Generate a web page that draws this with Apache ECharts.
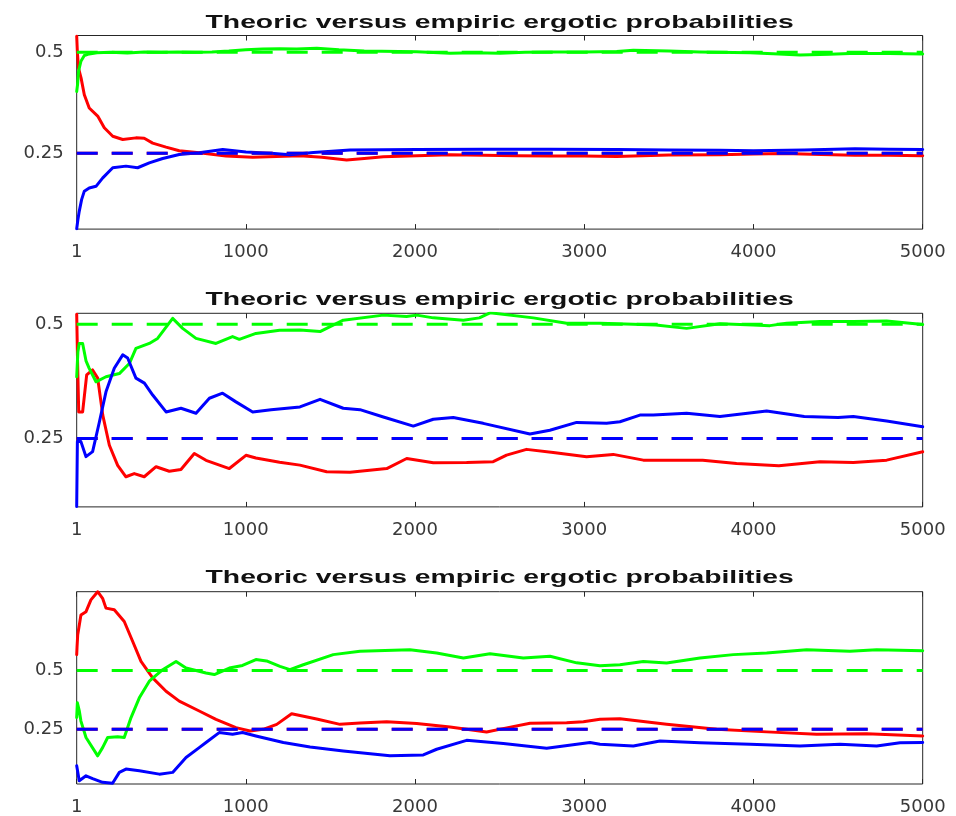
<!DOCTYPE html>
<html>
<head>
<meta charset="utf-8">
<script src="https://cdn.jsdelivr.net/npm/echarts@6/dist/echarts.min.js"></script>
<style>
  html, body { margin: 0; padding: 0; background: #fff; }
  #chart { width: 956px; height: 816px; }
</style>
</head>
<body>
<div id="chart"></div>
<script>
// Step axis ticks and probability ticks
const xTicks = [1, 1000, 2000, 3000, 4000, 5000];
const yTicks = [0.25, 0.5];
const chartTitle = 'Theoric versus empiric ergotic probabilities';

// Theoretical stationary probabilities for each run
const theoricA = { red: 0.25, green: 0.5, blue: 0.25 };
const theoricB = { red: 0.25, green: 0.5, blue: 0.25 };
const theoricC = { red: 0.25, green: 0.5, blue: 0.25 };

// Run A: running empirical frequencies [step, probability]
const redA = [[1,0.540],[5,0.50],[12,0.46],[27,0.436],[46,0.395],[75,0.362],[125,0.342],[164,0.313],[214,0.292],[273,0.284],[351,0.288],[400,0.287],[450,0.275],[529,0.265],[607,0.256],[725,0.251],[883,0.243],[1041,0.240],[1320,0.244],[1450,0.240],[1596,0.233],[1700,0.237],[1813,0.241],[2010,0.244],[2207,0.246],[2404,0.245],[2600,0.244],[2798,0.243],[3000,0.243],[3192,0.242],[3290,0.243],[3500,0.2455],[3800,0.246],[4000,0.248],[4180,0.249],[4400,0.247],[4600,0.245],[4800,0.245],[5000,0.244]];
const greenA = [[1,0.403],[6,0.42],[12,0.453],[26,0.478],[46,0.492],[75,0.496],[120,0.499],[200,0.500],[300,0.498],[400,0.501],[500,0.500],[600,0.501],[700,0.500],[800,0.501],[900,0.503],[1000,0.506],[1100,0.508],[1200,0.509],[1300,0.508],[1420,0.510],[1550,0.506],[1700,0.503],[2010,0.5015],[2207,0.4975],[2350,0.499],[2502,0.4975],[2650,0.500],[2798,0.501],[3000,0.501],[3192,0.502],[3290,0.505],[3500,0.503],[3684,0.501],[3980,0.499],[4150,0.496],[4275,0.493],[4450,0.495],[4570,0.497],[4800,0.497],[5000,0.496]];
const blueA = [[1,0.063],[8,0.085],[16,0.106],[30,0.135],[46,0.156],[75,0.164],[115,0.168],[155,0.189],[214,0.214],[292,0.218],[361,0.214],[430,0.226],[509,0.237],[607,0.247],[725,0.251],[864,0.259],[1001,0.253],[1150,0.250],[1261,0.246],[1400,0.252],[1616,0.258],[2010,0.259],[2404,0.260],[2798,0.260],[3192,0.259],[3500,0.258],[3800,0.2575],[4000,0.256],[4300,0.258],[4600,0.261],[4800,0.260],[5000,0.259]];

// Run B
const redB = [[1,0.522],[6,0.42],[13,0.308],[36,0.308],[60,0.389],[95,0.400],[125,0.382],[155,0.301],[194,0.235],[243,0.191],[292,0.166],[341,0.173],[400,0.166],[470,0.188],[548,0.178],[617,0.182],[696,0.217],[765,0.202],[903,0.184],[1001,0.213],[1060,0.207],[1200,0.198],[1320,0.1915],[1478,0.177],[1616,0.176],[1833,0.184],[1951,0.206],[2108,0.1965],[2305,0.197],[2462,0.199],[2541,0.2135],[2659,0.226],[2817,0.219],[3014,0.2097],[3171,0.215],[3349,0.2024],[3408,0.2024],[3700,0.2024],[3900,0.195],[4150,0.190],[4393,0.199],[4590,0.197],[4787,0.2024],[5000,0.2206]];
const greenB = [[1,0.385],[8,0.440],[16,0.458],[36,0.458],[56,0.420],[75,0.4035],[115,0.374],[174,0.385],[253,0.392],[312,0.414],[351,0.447],[430,0.458],[479,0.469],[568,0.513],[627,0.491],[706,0.469],[824,0.458],[922,0.473],[962,0.467],[1060,0.480],[1200,0.487],[1320,0.4875],[1439,0.484],[1576,0.509],[1813,0.520],[1950,0.517],[2010,0.520],[2108,0.514],[2286,0.509],[2380,0.514],[2443,0.525],[2699,0.514],[2896,0.502],[3093,0.502],[3290,0.500],[3424,0.4985],[3605,0.491],[3802,0.501],[3999,0.4985],[4097,0.497],[4196,0.502],[4393,0.506],[4590,0.506],[4787,0.507],[5000,0.4995]];
const blueB = [[1,0.101],[5,0.243],[26,0.243],[56,0.210],[95,0.221],[135,0.286],[174,0.352],[223,0.4035],[273,0.433],[302,0.426],[351,0.382],[401,0.371],[450,0.345],[529,0.308],[617,0.316],[706,0.305],[785,0.338],[863,0.349],[942,0.330],[1041,0.308],[1150,0.313],[1320,0.319],[1439,0.3355],[1576,0.316],[1675,0.313],[1813,0.297],[1990,0.277],[2108,0.292],[2226,0.296],[2403,0.283],[2679,0.2595],[2797,0.268],[2955,0.285],[3132,0.283],[3211,0.2864],[3329,0.301],[3408,0.301],[3605,0.305],[3802,0.298],[4078,0.310],[4300,0.298],[4500,0.296],[4590,0.298],[4787,0.288],[5000,0.2755]];

// Run C
const redC = [[1,0.568],[3,0.60],[7,0.6525],[26,0.737],[56,0.751],[85,0.801],[125,0.836],[154,0.808],[174,0.766],[223,0.759],[282,0.709],[332,0.624],[381,0.539],[450,0.469],[529,0.412],[607,0.370],[725,0.328],[824,0.292],[942,0.257],[1025,0.243],[1103,0.250],[1183,0.271],[1271,0.3165],[1419,0.294],[1557,0.271],[1675,0.277],[1833,0.282],[2010,0.275],[2207,0.26],[2423,0.2386],[2542,0.256],[2680,0.2755],[2896,0.278],[2995,0.2825],[3093,0.2924],[3211,0.295],[3487,0.271],[3782,0.25],[4078,0.239],[4373,0.229],[4669,0.2315],[5000,0.2216]];
const greenC = [[1,0.300],[5,0.363],[16,0.330],[26,0.285],[56,0.215],[125,0.137],[154,0.172],[184,0.215],[243,0.218],[282,0.215],[322,0.300],[371,0.384],[430,0.455],[509,0.504],[588,0.539],[647,0.511],[765,0.490],[814,0.483],[903,0.511],[981,0.522],[1060,0.547],[1123,0.541],[1202,0.518],[1261,0.504],[1340,0.525],[1517,0.568],[1675,0.582],[1970,0.589],[2128,0.575],[2286,0.554],[2443,0.572],[2640,0.554],[2798,0.561],[2955,0.533],[3093,0.521],[3211,0.525],[3349,0.539],[3487,0.532],[3684,0.554],[3881,0.568],[4078,0.575],[4314,0.589],[4570,0.582],[4728,0.589],[5000,0.585]];
const blueC = [[1,0.0945],[16,0.031],[56,0.052],[95,0.040],[154,0.024],[213,0.020],[253,0.0665],[292,0.0805],[371,0.073],[489,0.059],[568,0.0665],[647,0.130],[725,0.172],[765,0.194],[843,0.236],[922,0.229],[981,0.236],[1060,0.2216],[1222,0.194],[1380,0.175],[1576,0.158],[1852,0.137],[2049,0.141],[2128,0.165],[2305,0.203],[2522,0.189],[2778,0.1695],[3034,0.194],[3093,0.1864],[3290,0.179],[3448,0.2004],[3684,0.193],[3980,0.186],[4275,0.179],[4511,0.186],[4728,0.179],[4866,0.193],[5000,0.1935]];

// Vertical limits of each panel (tight around the data)
const yLimits = [[0.062, 0.5416], [0.100, 0.524], [0.017, 0.836]];

const panels = [
  { red: redA, green: greenA, blue: blueA, theoric: theoricA },
  { red: redB, green: greenB, blue: blueB, theoric: theoricB },
  { red: redC, green: greenC, blue: blueC, theoric: theoricC }
];

const colors = { red: '#ff0000', green: '#00ff00', blue: '#0000ff' };
const axisColor = '#262626';
const labelColor = '#383838';
const labelFont = '"DejaVu Sans", Verdana, sans-serif';
const titleFont = '"Liberation Sans", Arial, Helvetica, sans-serif';

const gridTops = [35.5, 313.3, 591.7];
const titleCenters = [22.5, 299.5, 577.5];
const gridHeight = 193.6;
const plotLeft = 76.7, plotRight = 33.3;

const grids = [], xAxes = [], yAxes = [], graphics = [], series = [];

panels.forEach((p, i) => {
  grids.push({
    left: plotLeft, right: plotRight, top: gridTops[i], height: gridHeight,
    show: true, borderColor: axisColor, borderWidth: 1, backgroundColor: '#ffffff',
    containLabel: false
  });
  // wide bold heading above each panel
  graphics.push({
    type: 'text',
    x: (plotLeft + (956 - plotRight)) / 2,
    y: titleCenters[i],
    scaleX: 1.53,
    style: {
      text: chartTitle, x: 0, y: 0, align: 'center', verticalAlign: 'middle',
      font: 'bold 18.5px ' + titleFont, fill: '#111111'
    }
  });
  const [ymin, ymax] = yLimits[i];
  // bottom x axis with labels
  xAxes.push({
    gridIndex: i, type: 'value', min: 1, max: 5000, position: 'bottom',
    axisLine: { show: false },
    axisTick: { show: true, inside: true, length: 5, customValues: xTicks, lineStyle: { color: axisColor } },
    axisLabel: { show: true, customValues: xTicks, margin: 14, fontSize: 18, fontFamily: labelFont, color: labelColor,
      formatter: v => String(v) },
    splitLine: { show: false }
  });
  // top x axis carries the mirrored ticks
  xAxes.push({
    gridIndex: i, type: 'value', min: 1, max: 5000, position: 'top',
    axisLine: { show: false },
    axisTick: { show: true, inside: true, length: 5, customValues: xTicks, lineStyle: { color: axisColor } },
    axisLabel: { show: false },
    splitLine: { show: false }
  });
  yAxes.push({
    gridIndex: i, type: 'value', min: ymin, max: ymax, position: 'left',
    axisLine: { show: false },
    axisTick: { show: true, inside: true, length: 5, customValues: yTicks, lineStyle: { color: axisColor } },
    axisLabel: { show: true, customValues: yTicks, margin: 13, fontSize: 18, fontFamily: labelFont, color: labelColor,
      formatter: v => String(v) },
    splitLine: { show: false }
  });
  yAxes.push({
    gridIndex: i, type: 'value', min: ymin, max: ymax, position: 'right',
    axisLine: { show: false },
    axisTick: { show: true, inside: true, length: 5, customValues: yTicks, lineStyle: { color: axisColor } },
    axisLabel: { show: false },
    splitLine: { show: false }
  });

  ['red', 'green', 'blue'].forEach((c, k) => {
    series.push({
      type: 'line', xAxisIndex: 2 * i, yAxisIndex: 2 * i,
      data: p[c], symbol: 'none', smooth: false, clip: true, z: 2 + k,
      lineStyle: { color: colors[c], width: 3, join: 'round', cap: 'round' }
    });
  });
  ['red', 'green', 'blue'].forEach((c, k) => {
    const v = p.theoric[c];
    series.push({
      type: 'line', xAxisIndex: 2 * i, yAxisIndex: 2 * i,
      data: [[1, v], [5000, v]], symbol: 'none', clip: true, z: 6 + k,
      lineStyle: { color: colors[c], width: 3, type: [21, 14] }
    });
  });
});

const chart = echarts.init(document.getElementById('chart'), null, { renderer: 'canvas' });
chart.setOption({
  animation: false,
  backgroundColor: '#ffffff',
  graphic: graphics,
  grid: grids,
  xAxis: xAxes,
  yAxis: yAxes,
  series: series
});
</script>
</body>
</html>
